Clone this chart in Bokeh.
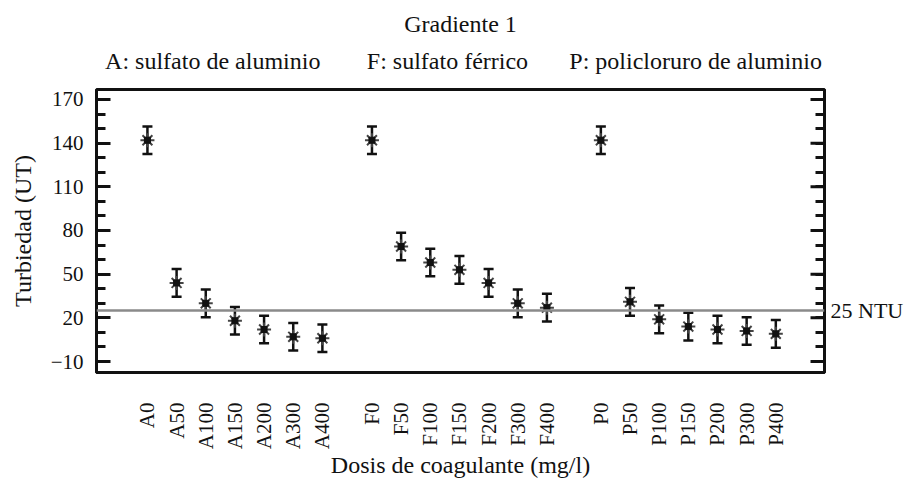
from bokeh.plotting import figure
from bokeh.models import (ColumnDataSource, Whisker, TeeHead, Span,
                          LinearAxis, FixedTicker, Range1d)
from bokeh.embed import file_html
from bokeh.resources import INLINE

# ---- data ----
labels_A = ["A0", "A50", "A100", "A150", "A200", "A300", "A400"]
labels_F = ["F0", "F50", "F100", "F150", "F200", "F300", "F400"]
labels_P = ["P0", "P50", "P100", "P150", "P200", "P300", "P400"]
vals_A = [142, 44, 30, 18, 12, 7, 6]
vals_F = [142, 69, 58, 53, 44, 30, 27]
vals_P = [142, 31, 19, 14, 12, 11, 9]
half_interval = 9.5
limit_ntu = 25
y_major = [-10, 20, 50, 80, 110, 140, 170]
y_minor = list(range(-10, 171, 10))

title_text = "Gradiente 1"
group_texts = ["A: sulfato de aluminio", "F: sulfato férrico", "P: policloruro de aluminio"]
limit_text = "25 NTU"
x_label = "Dosis de coagulante (mg/l)"
y_label = "Turbiedad (UT)"

# ---- layout helpers ----
group_offsets = [0.0, 7.7, 15.55]
group_label_pos = [2.24, 10.29, 18.8]
FONT = "Liberation Serif"
INK = "#111111"

xs, ys, labs = [], [], []
for off, labels, vals in zip(group_offsets, [labels_A, labels_F, labels_P],
                             [vals_A, vals_F, vals_P]):
    for i, (lab, v) in enumerate(zip(labels, vals)):
        xs.append(round(off + i, 2))
        ys.append(v)
        labs.append(lab)

src = ColumnDataSource(dict(x=xs, y=ys,
                            lo=[v - half_interval for v in ys],
                            hi=[v + half_interval for v in ys]))

y0, y1 = -17.53, 176.84
x0, x1 = -1.747, 23.22
frame_w = 729
tick_len_data = 14 * (x1 - x0) / frame_w

p = figure(width=906, height=484, output_backend="svg", toolbar_location=None,
           x_range=Range1d(x0, x1), y_range=Range1d(y0, y1),
           min_border_left=96, min_border_right=81, min_border_top=88,
           min_border_bottom=112)
p.grid.visible = False
p.background_fill_color = "white"
p.border_fill_color = "white"
p.outline_line_color = INK
p.outline_line_width = 3

# title
p.title.text = title_text
p.title.align = "center"
p.title.text_font = FONT
p.title.text_font_size = "24px"
p.title.text_font_style = "normal"
p.title.text_color = INK
p.title.standoff = 16

# x axis
p.xaxis.ticker = FixedTicker(ticks=xs)
p.xaxis.major_label_overrides = {x: l for x, l in zip(xs, labs)}
p.xaxis.major_label_orientation = 3.14159265 / 2
p.xaxis.major_tick_line_color = None
p.xaxis.minor_tick_line_color = None
p.xaxis.axis_line_width = 3
p.xaxis.axis_line_color = INK
p.xaxis.major_label_standoff = 24
p.xaxis.major_label_text_font = FONT
p.xaxis.major_label_text_font_size = "21px"
p.xaxis.major_label_text_color = INK
p.xaxis.axis_label = x_label
p.xaxis.axis_label_text_font = FONT
p.xaxis.axis_label_text_font_size = "24px"
p.xaxis.axis_label_text_font_style = "normal"
p.xaxis.axis_label_text_color = INK
p.xaxis.axis_label_standoff = 0

# left y axis
p.yaxis.ticker = FixedTicker(ticks=y_major, minor_ticks=y_minor)
p.yaxis.major_tick_in = 14
p.yaxis.major_tick_out = 0
p.yaxis.minor_tick_in = 9
p.yaxis.minor_tick_out = 0
p.yaxis.major_tick_line_width = 3
p.yaxis.minor_tick_line_width = 3
p.yaxis.major_tick_line_color = INK
p.yaxis.minor_tick_line_color = INK
p.yaxis.axis_line_width = 3
p.yaxis.axis_line_color = INK
p.yaxis.major_label_standoff = 13
p.yaxis.major_label_text_font = FONT
p.yaxis.major_label_text_font_size = "21px"
p.yaxis.major_label_text_color = INK
p.yaxis.axis_label = y_label
p.yaxis.axis_label_text_font = FONT
p.yaxis.axis_label_text_font_size = "24px"
p.yaxis.axis_label_text_font_style = "normal"
p.yaxis.axis_label_text_color = INK
p.yaxis.axis_label_standoff = 12

# right axis: minor ticks inward + the limit label
ra = LinearAxis(ticker=FixedTicker(ticks=[limit_ntu], minor_ticks=y_minor),
                major_tick_in=0, major_tick_out=0, minor_tick_in=9, minor_tick_out=0,
                minor_tick_line_width=3, minor_tick_line_color=INK,
                axis_line_width=3, axis_line_color=INK,
                major_label_overrides={limit_ntu: limit_text},
                major_label_text_font=FONT, major_label_text_font_size="22px",
                major_label_text_color=INK, major_label_standoff=6)
p.add_layout(ra, "right")
# longer inward major ticks on the right edge
p.segment(x0=[x1 - tick_len_data] * len(y_major), x1=[x1] * len(y_major),
          y0=y_major, y1=y_major, line_color=INK, line_width=3)

# group labels as a top axis
ta = LinearAxis(ticker=FixedTicker(ticks=group_label_pos, minor_ticks=[]),
                major_label_overrides={g: t for g, t in zip(group_label_pos, group_texts)},
                major_tick_line_color=None, minor_tick_line_color=None,
                axis_line_color=None,
                major_label_text_font=FONT, major_label_text_font_size="24px",
                major_label_text_color=INK, major_label_standoff=10)
p.add_layout(ta, "above")

# limit line
p.add_layout(Span(location=limit_ntu, dimension="width", line_color="#8a8a8a",
                  line_width=2.5))

# intervals
w = Whisker(source=src, base="x", lower="lo", upper="hi", line_color=INK,
            line_width=2.5,
            upper_head=TeeHead(size=10, line_color=INK, line_width=2.5),
            lower_head=TeeHead(size=10, line_color=INK, line_width=2.5))
p.add_layout(w)

p.scatter("x", "y", source=src, marker="asterisk", size=14, line_color="#444444",
          line_width=2)
p.scatter("x", "y", source=src, marker="square", size=6, fill_color=INK,
          line_color=INK)

open("out.html", "w").write(file_html(p, INLINE))
